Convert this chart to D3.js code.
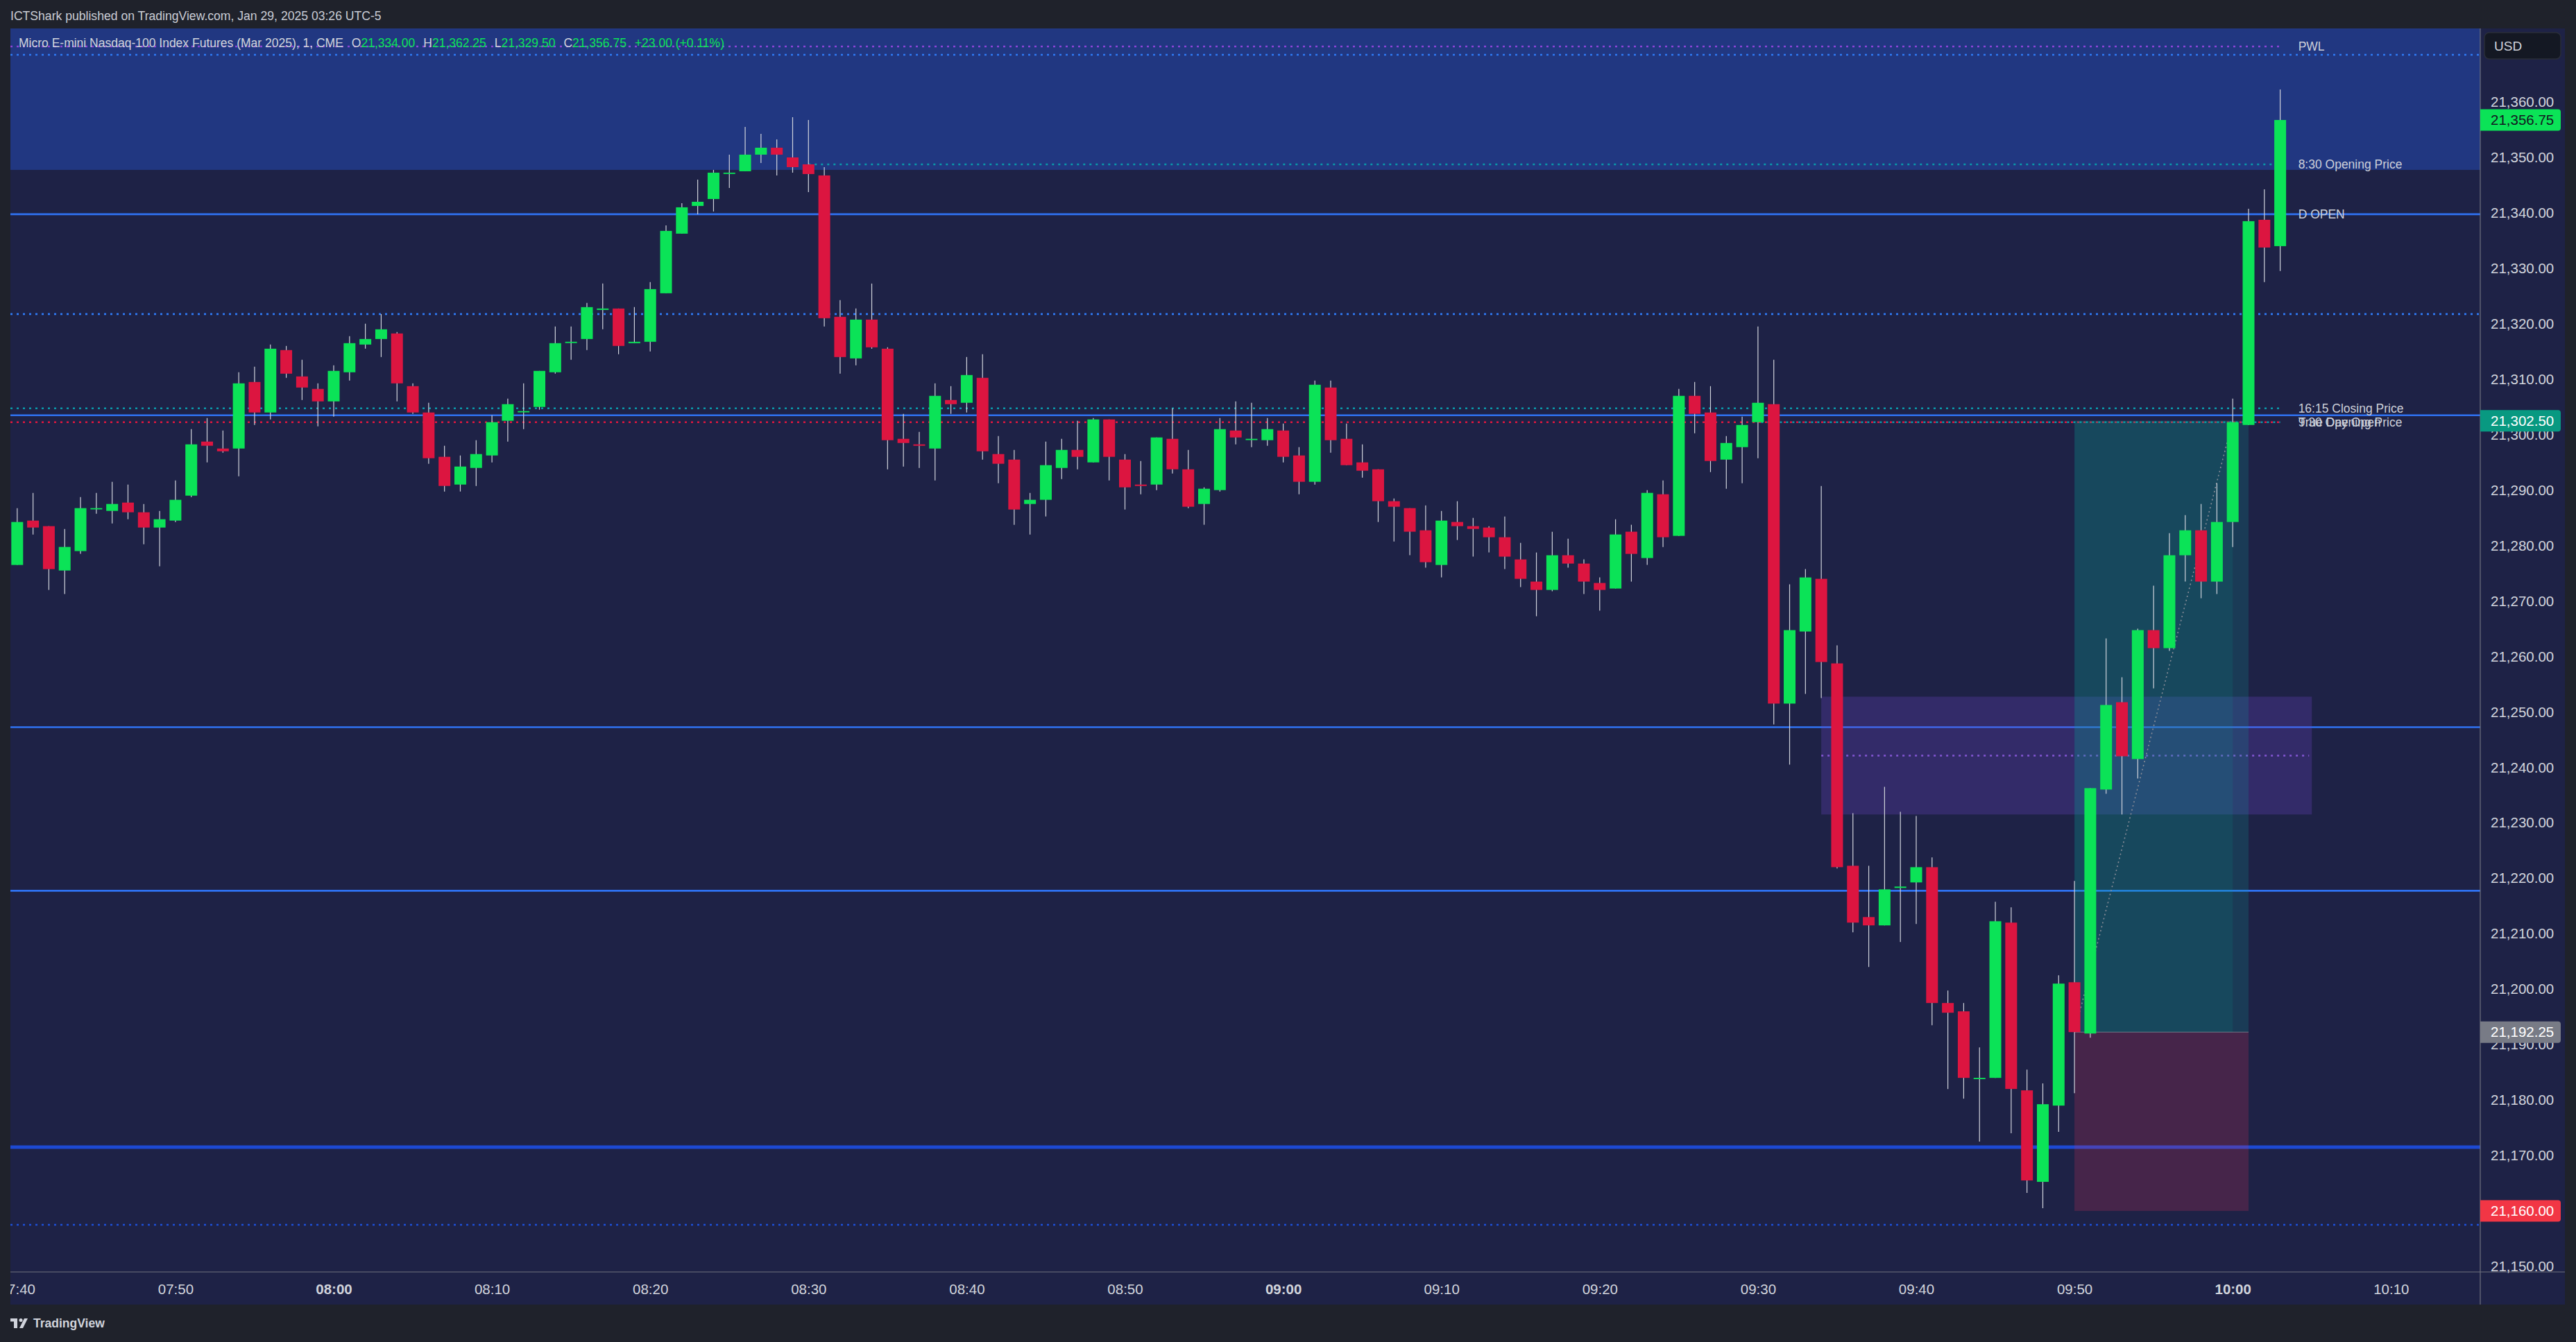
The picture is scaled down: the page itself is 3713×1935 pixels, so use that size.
<!DOCTYPE html>
<html><head><meta charset="utf-8">
<script src="https://cdn.jsdelivr.net/npm/d3@7"></script>
<style>html,body{margin:0;padding:0;background:#1f222b;overflow:hidden}</style>
</head><body><svg id="c" width="3713" height="1935"></svg>
<script>
// ---------------- DATA ----------------
const times = [
"07:40","07:41","07:42","07:43","07:44","07:45","07:46","07:47","07:48","07:49",
"07:50","07:51","07:52","07:53","07:54","07:55","07:56","07:57","07:58","07:59",
"08:00","08:01","08:02","08:03","08:04","08:05","08:06","08:07","08:08","08:09",
"08:10","08:11","08:12","08:13","08:14","08:15","08:16","08:17","08:18","08:19",
"08:20","08:21","08:22","08:23","08:24","08:25","08:26","08:27","08:28","08:29",
"08:30","08:31","08:32","08:33","08:34","08:35","08:36","08:37","08:38","08:39",
"08:40","08:41","08:42","08:43","08:44","08:45","08:46","08:47","08:48","08:49",
"08:50","08:51","08:52","08:53","08:54","08:55","08:56","08:57","08:58","08:59",
"09:00","09:01","09:02","09:03","09:04","09:05","09:06","09:07","09:08","09:09",
"09:10","09:11","09:12","09:13","09:14","09:15","09:16","09:17","09:18","09:19",
"09:20","09:21","09:22","09:23","09:24","09:25","09:26","09:27","09:28","09:29",
"09:30","09:31","09:32","09:33","09:34","09:35","09:36","09:37","09:38","09:39",
"09:40","09:41","09:42","09:43","09:44","09:45","09:46","09:47","09:48","09:49",
"09:50","09:51","09:52","09:53","09:54","09:55","09:56","09:57","09:58","09:59",
"10:00","10:01","10:02","10:03"];
const opens = [
21276.5,21284.5,21283.5,21275.5,21279,21286.75,21286.25,21287.75,21286,21283.25,
21284.5,21289,21298.75,21297.5,21297.5,21309.5,21304,21315.25,21310.5,21308.25,
21306,21311.25,21316.25,21317.25,21318.25,21308.75,21304,21296,21291,21294,
21296.25,21302.5,21304.25,21305,21311.25,21316.75,21317.25,21322.5,21322.75,21316.5,
21316.75,21325.5,21336.25,21341.25,21342.5,21347.25,21347.5,21350.5,21351.75,21350,
21348.75,21346.75,21321.25,21313.75,21320.75,21315.5,21299.25,21298.25,21297.5,21306.25,
21305.75,21310.25,21296.5,21295.5,21287.5,21288.25,21294,21297.25,21295,21302.75,
21295.5,21291,21291,21299.25,21293.75,21287.5,21290,21300.75,21299.25,21299,
21300.75,21296.25,21291.5,21308.5,21299.25,21295,21293.75,21288,21286.75,21282.75,
21276.5,21284.25,21283.5,21283.25,21281.5,21277.5,21273.5,21272,21278.25,21276.75,
21273.25,21272.25,21282.5,21277.75,21289.25,21281.75,21307,21304,21295.5,21297.75,
21302.25,21305.5,21251.5,21264.5,21274,21258.75,21222.25,21213,21211.5,21218.25,
21219.25,21222,21197.5,21196,21184,21184,21212,21181.75,21165.25,21179,
21201.25,21192,21236,21251.75,21241.5,21264.75,21261.5,21278.25,21282.75,21273.5,
21284.25,21301.75,21338.75,21334];
const highs = [
21286.75,21289.5,21283.5,21283,21288.75,21289.5,21291.5,21291,21287.5,21286.25,
21291.75,21301,21303,21300.75,21311.25,21312.25,21316.25,21316,21313.5,21309.25,
21312.5,21317.75,21320,21321.75,21318.5,21309.25,21305.75,21298,21296.25,21299,
21303.5,21306.5,21309.25,21311.5,21319.5,21319.5,21323.75,21327.25,21322.75,21323,
21327.5,21337.75,21341.75,21346,21347.75,21350.5,21355.5,21354.25,21353.25,21357.25,
21356.75,21348.25,21324.25,21322.75,21327.25,21315.75,21303.75,21300.5,21309.25,21308.75,
21314,21314.5,21299.75,21297.25,21289.5,21298.75,21299.25,21302.5,21303,21302.75,
21296.5,21295.25,21299.5,21304.75,21297.25,21290.5,21303,21306,21305.75,21303,
21302,21297.75,21309.75,21309.75,21302,21298.25,21293.75,21288.5,21286.75,21287.25,
21286.25,21288,21285,21283.5,21285.25,21280.5,21278.75,21282.5,21281.25,21277.5,
21274.25,21284.75,21283.75,21290,21291.75,21308.25,21309.5,21308.75,21299.75,21303.25,
21319.5,21313.5,21273,21275.75,21290.75,21262,21231.75,21222.25,21236.5,21232,
21231.25,21223.75,21199.75,21197.5,21189.5,21215.75,21214.75,21185.5,21183,21202.5,
21219.5,21236.25,21263.25,21256.25,21265,21272.75,21282.25,21285.5,21287.5,21291.25,
21306.5,21340.75,21344.25,21362.25];
const lows = [
21276.5,21282,21272,21271.25,21278.5,21285.75,21284,21284.75,21280.25,21276.25,
21284.25,21288.75,21295,21296.75,21292.5,21301.75,21302.75,21310.25,21306.25,21301.5,
21303.25,21309.75,21315.5,21314,21306,21303.75,21294.75,21289.75,21289.75,21290.75,
21295,21298.75,21301,21304.5,21311,21313.5,21315.25,21319,21314.5,21316.5,
21315,21325.5,21336.25,21339.75,21340.25,21344.5,21347.5,21349,21346.75,21347.25,
21343.75,21319.5,21311,21312.5,21315.5,21293.75,21294.25,21294,21291.75,21303.75,
21304,21295.5,21291.25,21283.75,21282,21285.25,21292,21293.75,21295,21291.75,
21286.5,21289.25,21290,21293,21286.75,21283.75,21289.75,21298.25,21297.75,21298,
21295,21289.25,21291,21296.75,21294.5,21292.25,21284.25,21280.75,21278.25,21276,
21274.25,21281,21278,21278.75,21275.75,21272.5,21267.25,21271.75,21276,21271.25,
21268.25,21272.25,21273.5,21276.5,21279.75,21281.75,21300.25,21293.25,21290.25,21291.25,
21295.75,21247.75,21240.5,21253.25,21252.5,21221.75,21210.25,21204,21211.5,21208.5,
21211.75,21193.5,21182,21180.25,21172.5,21184,21174,21163.25,21160.5,21174.25,
21181.25,21191.25,21235.25,21231.5,21238,21254.25,21261,21273.5,21270.5,21271.25,
21279.75,21301.75,21327.5,21329.5];
const closes = [
21284.25,21283.25,21275.75,21279.75,21286.75,21286.75,21287.5,21286,21283.25,21284.75,
21288.25,21298.25,21298,21297,21309.25,21304,21315.5,21311,21308.5,21306,
21311.5,21316.5,21317.25,21319,21309.25,21304,21295.75,21290.75,21294.25,21296.5,
21302.25,21305.5,21304.25,21311.5,21316.5,21316.75,21323,21322.75,21316,21316.75,
21326.25,21336.75,21341,21342,21347.25,21347.25,21350.5,21351.75,21350.5,21348.25,
21347,21321,21314,21320.75,21315.75,21299,21298.5,21298,21307,21305.5,
21310.75,21297,21294.75,21286.5,21288.25,21294.5,21297.25,21296,21302.75,21296,
21290.5,21290.75,21299.5,21293.75,21287,21290.25,21301,21299.5,21299.25,21301,
21296,21291.5,21309,21299,21294.5,21293.5,21288,21287,21282.5,21277,
21284.5,21283.5,21283,21281.5,21278,21274,21272,21278.25,21276.75,21273.5,
21272,21282,21278.5,21289.5,21281.5,21307,21303.75,21295.25,21298.5,21301.75,
21305.75,21251.5,21264.75,21274.25,21259,21222,21212,21211.5,21218,21218.5,
21222,21197.5,21195.75,21184,21184,21212.25,21182,21165.5,21179.25,21201,
21192.25,21236.25,21251.25,21242,21264.75,21261.5,21278.25,21282.75,21273.5,21284.25,
21302.25,21338.5,21333.75,21356.75];

const timeTicks = ["07:40","07:50","08:00","08:10","08:20","08:30","08:40","08:50",
                   "09:00","09:10","09:20","09:30","09:40","09:50","10:00","10:10"];
const priceTicks = [21150,21160,21170,21180,21190,21200,21210,21220,21230,21240,21250,
                    21260,21270,21280,21290,21300,21310,21320,21330,21340,21350,21360];

// labelled session levels
const levelLabels = ["PWL","8:30 Opening Price","D OPEN","16:15 Closing Price","True Day Open","9:30 Opening Price"];
const levelPrices = [21370, 21348.75, 21339.75, 21304.75, 21302.25, 21302.25];
const levelStarts = [null, "08:30", null, null, null, "09:30"];
// unlabelled horizontal levels
const solidLevels = [21303.5, 21247.25, 21217.75];
const dottedLevels = [21368.5, 21321.75];
const majorLevel = [21171.5];
const lowDotted = [21157.5];
// zones
const premiumZone = [21347.75, 21380];
const fvgZone = [21231.5, 21252.75];
const fvgTimes = ["09:34", "10:05"];
// long position tool
const posTimes = ["09:50", "10:01"];
const posHitTime = "10:00";
const posEntry = 21192.25, posTarget = 21302.5, posStop = 21160;

const headerText = "ICTShark published on TradingView.com, Jan 29, 2025 03:26 UTC-5";
const symbolTitle = "Micro E-mini Nasdaq-100 Index Futures (Mar 2025), 1, CME";

// ---------------- LAYOUT ----------------
const FONT = "'Liberation Sans', Arial, sans-serif";
const P = {l:15, r:3575, t:41, b:1834, panelR:3697, panelB:1881};
const toMin = s => { const [h,m] = s.split(":").map(Number); return h*60+m; };
const pxPerMin = 22.81;
const x = d3.scaleLinear().domain([480 - (481-P.l)/pxPerMin, 480 + (P.r-481)/pxPerMin]).range([P.l, P.r]);
const y = d3.scaleLinear().domain([21149.0, 21373.26]).range([P.b, P.t]);
const xt = s => x(toMin(s));

const GREEN = "#0be357", RED = "#dc1540", WICK = "#d1d4dc", NAVY = "#1e2246";
const BLUE = "#2f72f2", TXT = "#d1d4dc";

const svg = d3.select("#c");
svg.append("rect").attr("width",3713).attr("height",1935).attr("fill","#1f222b");
svg.append("rect").attr("x",P.l).attr("y",P.t).attr("width",P.panelR-P.l).attr("height",P.panelB-P.t)
   .attr("fill",NAVY);

const defs = svg.append("defs");
defs.append("clipPath").attr("id","plotclip").append("rect")
  .attr("x",P.l).attr("y",P.t).attr("width",P.r-P.l).attr("height",P.b-P.t);

const plot = svg.append("g").attr("clip-path","url(#plotclip)");

// premium zone
plot.append("rect").attr("x",P.l).attr("width",P.r-P.l)
  .attr("y",y(premiumZone[1])).attr("height",y(premiumZone[0])-y(premiumZone[1]))
  .attr("fill","rgba(41,98,255,0.32)");

const lastX = xt(times[times.length-1]);
const hline = (g, price, x0, x1, color, w, dash) => {
  const l = g.append("line").attr("x1",x0).attr("x2",x1).attr("y1",y(price)).attr("y2",y(price))
    .attr("stroke",color).attr("stroke-width",w);
  if (dash) l.attr("stroke-dasharray",dash);
  return l;
};
const lines = plot.append("g");
dottedLevels.forEach(p => hline(lines, p, P.l, P.r, "#2f7af5", 2.6, "3 6"));
lowDotted.forEach(p => hline(lines, p, P.l, P.r, "#1d4fd9", 2.6, "3 6"));
solidLevels.forEach(p => hline(lines, p, P.l, P.r, BLUE, 2.6));
majorLevel.forEach(p => hline(lines, p, P.l, P.r, "#1d49d2", 5));
const levelColor = {"PWL":"#8a44d6","8:30 Opening Price":"#0a9aaa","D OPEN":BLUE,
  "16:15 Closing Price":"#0a9aaa","True Day Open":"#e0163f","9:30 Opening Price":"#0a9aaa"};
levelLabels.forEach((lab,i) => {
  const x0 = levelStarts[i] ? xt(levelStarts[i]) : P.l;
  if (lab === "D OPEN") hline(lines, levelPrices[i], x0, P.r, BLUE, 2.6);
  else {
    const l = hline(lines, levelPrices[i], x0, lastX, levelColor[lab], 2.6, "3 6");
    if (lab === "9:30 Opening Price") l.attr("stroke-dashoffset", 4.5);
  }
});

// FVG zone
const zones = plot.append("g");
zones.append("rect").attr("x",xt(fvgTimes[0])).attr("width",xt(fvgTimes[1])-xt(fvgTimes[0]))
  .attr("y",y(fvgZone[1])).attr("height",y(fvgZone[0])-y(fvgZone[1]))
  .attr("fill","rgba(110,70,200,0.27)");
hline(zones, (fvgZone[0]+fvgZone[1])/2, xt(fvgTimes[0]), xt(fvgTimes[1])-4, "#8557d6", 2.6, "3 6");

// long position
const px0 = xt(posTimes[0]), px1 = xt(posTimes[1]);
zones.append("rect").attr("x",px0).attr("width",px1-px0).attr("y",y(posTarget))
  .attr("height",y(posEntry)-y(posTarget)).attr("fill","rgba(10,160,150,0.2)");
zones.append("rect").attr("x",px0).attr("width",xt(posHitTime)-px0).attr("y",y(posTarget))
  .attr("height",y(posEntry)-y(posTarget)).attr("fill","rgba(10,160,150,0.13)");
zones.append("rect").attr("x",px0).attr("width",px1-px0).attr("y",y(posEntry))
  .attr("height",y(posStop)-y(posEntry)).attr("fill","rgba(220,50,90,0.21)");
hline(zones, posEntry, px0, px1, "rgba(160,163,172,0.6)", 1);
zones.append("line").attr("x1",px0).attr("y1",y(posEntry)).attr("x2",xt(posHitTime)).attr("y2",y(posTarget))
  .attr("stroke","#8a8d98").attr("stroke-width",1.6).attr("stroke-dasharray","2 4");

// candles
const bw = 17;
const cg = plot.append("g");
times.forEach((t,i) => {
  const cx = xt(t), up = closes[i] >= opens[i];
  cg.append("line").attr("x1",cx).attr("x2",cx).attr("y1",y(highs[i])).attr("y2",y(lows[i]))
    .attr("stroke",WICK).attr("stroke-width",1.2);
  const top = y(Math.max(opens[i],closes[i])), bot = y(Math.min(opens[i],closes[i]));
  cg.append("rect").attr("x",cx-bw/2).attr("width",bw).attr("y",top).attr("height",Math.max(bot-top,1.8))
    .attr("fill",up?GREEN:RED);
});

// level labels (the reference draws "True Day Open" and "9:30 Opening Price" on top of each other)
const labG = svg.append("g").attr("font-family",FONT).attr("font-size",17.5).attr("fill","#cdd0d9");
levelLabels.forEach((lab,i) => {
  labG.append("text").attr("x",lastX+26).attr("y",y(levelPrices[i])).attr("dy","0.35em").text(lab);
});

// separators
svg.append("line").attr("x1",P.r).attr("x2",P.r).attr("y1",P.t).attr("y2",P.panelB).attr("stroke","#70737e").attr("stroke-width",1.2);
svg.append("line").attr("x1",P.l).attr("x2",P.panelR).attr("y1",P.b).attr("y2",P.b).attr("stroke","#70737e").attr("stroke-width",1.2);

// price axis
const ya = svg.append("g").attr("transform",`translate(${P.r},0)`)
  .call(d3.axisRight(y).tickValues(priceTicks).tickFormat(d3.format(",.2f")).tickSize(0).tickPadding(15));
ya.select(".domain").remove();
ya.attr("font-family",FONT).attr("font-size",20.5);
ya.selectAll("text").attr("fill",TXT);

// time axis
defs.append("clipPath").attr("id","xclip").append("rect")
  .attr("x",P.l).attr("y",P.b).attr("width",P.r-P.l).attr("height",P.panelB-P.b);
const xa = svg.append("g").attr("clip-path","url(#xclip)").append("g").attr("transform",`translate(0,${P.b})`)
  .call(d3.axisBottom(x).tickValues(timeTicks.map(toMin)).tickSize(0).tickPadding(17)
    .tickFormat(m => timeTicks.find(s => toMin(s)===m)));
xa.select(".domain").remove();
xa.attr("font-family",FONT).attr("font-size",20.5);
xa.selectAll("text").attr("fill",TXT).attr("font-weight", m => (m%60===0) ? "bold" : "normal");

// price markers
const markers = [
  {p: closes[closes.length-1], fill: GREEN, txt: "#131722"},
  {p: posTarget, fill: "#089981", txt: "#ffffff"},
  {p: posEntry, fill: "#787b86", txt: "#ffffff"},
  {p: posStop, fill: "#f23645", txt: "#ffffff"}
];
const mg = svg.append("g").attr("font-family",FONT).attr("font-size",20.5);
markers.forEach(m => {
  mg.append("path").attr("fill",m.fill)
    .attr("d",`M${P.r},${y(m.p)-15.5} h112 q4,0 4,4 v23 q0,4 -4,4 h-112 z`);
  mg.append("text").attr("x",P.r+15).attr("y",y(m.p)).attr("dy","0.35em").attr("fill",m.txt)
    .text(d3.format(",.2f")(m.p));
});

// USD box
svg.append("rect").attr("x",3581).attr("y",47).attr("width",110).attr("height",38).attr("rx",7)
  .attr("fill","#141823").attr("stroke","#2a2e39").attr("stroke-width",1.5);
svg.append("text").attr("x",3595).attr("y",66).attr("dy","0.35em").attr("font-family",FONT)
  .attr("font-size",19).attr("fill",TXT).text("USD");

// header
svg.append("text").attr("x",15).attr("y",29).attr("font-family",FONT).attr("font-size",17.6)
  .attr("fill","#c9ccd5").text(headerText);

// legend
const n = closes.length-1;
const chg = closes[n]-closes[n-1];
const f2 = d3.format(",.2f");
const lg = svg.append("text").attr("x",27).attr("y",68).attr("font-family",FONT).attr("font-size",17.5).attr("fill","#d1d4dc");
lg.append("tspan").text(symbolTitle);
[["O",opens[n]],["H",highs[n]],["L",lows[n]],["C",closes[n]]].forEach(([k,v]) => {
  lg.append("tspan").attr("dx",12).text(k);
  lg.append("tspan").attr("fill",GREEN).text(f2(v));
});
lg.append("tspan").attr("dx",12).attr("fill",GREEN)
  .text(`${chg>=0?"+":""}${chg.toFixed(2)} (${chg>=0?"+":""}${(chg/closes[n-1]*100).toFixed(2)}%)`);

// TradingView logo
const logo = svg.append("g").attr("fill","#d1d4dc");
logo.append("rect").attr("x",15).attr("y",1901).attr("width",10).attr("height",4.5);
logo.append("rect").attr("x",20).attr("y",1901).attr("width",5).attr("height",14);
logo.append("circle").attr("cx",30).attr("cy",1903.5).attr("r",2.5);
logo.append("path").attr("d","M35,1901 L40,1901 L33,1915 L28,1915 Z");
svg.append("text").attr("x",48).attr("y",1914).attr("font-family",FONT).attr("font-size",17.5)
  .attr("font-weight","bold").attr("fill","#d1d4dc").text("TradingView");
</script></body></html>
